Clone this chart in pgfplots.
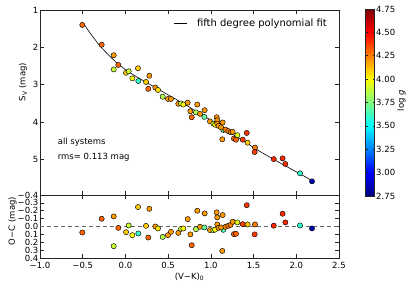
\documentclass[border=0pt]{standalone}
\usepackage{fontspec}
\setmainfont{DejaVu Sans}
\usepackage{pgfplots}
\usepackage{pgfplotstable}
\pgfplotsset{compat=1.18}

\pgfplotstableread{
x s r g
-0.505 1.40 0.076 4.30
-0.278 1.93 -0.098 4.30
-0.137 2.21 -0.128 4.20
-0.137 2.59 0.250 3.90
-0.083 2.47 0.017 4.30
0.007 2.68 0.072 4.10
0.038 2.64 -0.013 3.90
0.081 2.83 0.110 4.00
0.147 2.56 -0.247 4.10
0.151 2.90 0.089 3.60
0.241 2.925 -0.008 4.10
0.268 3.11 0.140 4.30
0.280 2.76 -0.225 4.20
0.350 3.075 0.000 4.20
0.381 3.14 0.025 4.05
0.436 3.32 0.132 3.85
0.498 3.38 0.110 4.20
0.533 3.38 0.068 4.20
0.619 3.51 0.081 4.20
0.651 3.50 0.030 3.90
0.678 3.53 0.025 4.00
0.729 3.48 -0.094 4.20
0.760 3.71 0.100 4.20
0.776 3.87 0.238 4.30
0.826 3.74 0.034 3.85
0.841 3.53 -0.200 4.20
0.873 3.78 0.004 4.20
0.928 3.68 -0.166 4.20
0.924 3.86 0.012 3.70
0.990 3.98 0.046 4.20
1.030 4.04 0.046 3.90
1.050 4.07 0.040 4.00
1.068 3.87 -0.180 4.20
1.075 3.95 -0.116 4.20
1.075 4.04 -0.026 4.20
1.090 4.10 0.017 4.20
1.138 4.01 -0.145 4.20
1.134 4.46 0.310 4.20
1.146 4.21 0.042 3.65
1.120 4.14 0.012 4.20
1.170 4.20 0.004 4.25
1.204 4.24 -0.009 4.25
1.232 4.27 -0.021 4.25
1.255 4.26 -0.060 4.20
1.270 4.44 0.097 4.30
1.294 4.47 0.093 4.30
1.310 4.35 -0.052 3.95
1.373 4.47 -0.030 4.38
1.420 4.29 -0.270 4.40
1.430 4.55 -0.026 4.10
1.517 4.68 -0.026 4.25
1.513 4.80 0.100 4.38
1.736 4.99 -0.010 4.42
1.840 4.97 -0.162 4.42
1.872 5.12 -0.052 4.42
2.044 5.37 -0.013 3.60
2.184 5.585 0.025 2.85
}\data

\pgfplotstableread{
x s
-0.50 1.335
-0.40 1.66
-0.30 1.96
-0.20 2.20
-0.10 2.42
0.00 2.60
0.10 2.745
0.20 2.88
0.30 3.01
0.40 3.14
0.50 3.27
0.60 3.40
0.70 3.53
0.80 3.67
0.90 3.81
1.00 3.95
1.10 4.10
1.20 4.245
1.30 4.39
1.40 4.535
1.50 4.68
1.60 4.82
1.70 4.95
1.80 5.08
1.90 5.205
2.00 5.33
2.10 5.455
2.184 5.57
}\fit

\pgfplotsset{
  panel/.style={
    scale only axis, width=299pt, anchor=south west,
    xmin=-1, xmax=2.5,
    xtick={-1,-0.5,0,0.5,1,1.5,2,2.5},
    tick pos=both, tick align=inside, major tick length=4pt,
    axis line style={line width=0.7pt, black!85},
    tick style={line width=0.5pt, black!85},
    ticklabel style={font=\fontsize{8.5}{10}\selectfont},
    yticklabel style={inner xsep=1.5pt},
    xticklabel style={yshift=-1pt},
    label style={font=\fontsize{8.5}{10}\selectfont},
    /pgf/number format/assume math mode=true,
    colormap/jet, point meta min=2.75, point meta max=4.75,
  },
  pts/.style={
    scatter, only marks, mark=*, mark size=2.6pt,
    scatter src=explicit,
    scatter/use mapped color={draw=black, fill=mapped color},
    mark options={line width=0.45pt},
  }
}

\begin{document}
\begin{tikzpicture}
\path[use as bounding box] (0,0) rectangle (407pt,289pt);

\begin{axis}[panel,
  at={(40pt,94pt)}, height=185pt,
  ymin=1, ymax=5.95, y dir=reverse, ytick={1,2,3,4,5},
  xticklabels={},
  ylabel={S\textsubscript{V} (mag)},
  ylabel style={at={(axis description cs:-0.057,0.611)}, anchor=center},
  legend style={at={(axis description cs:1,1)}, anchor=north east,
    draw=none, fill=none, xshift=-7pt, yshift=-5pt,
    font=\fontsize{10}{12}\selectfont,
    /tikz/every odd column/.append style={column sep=8pt}},
  legend image code/.code={\draw[#1] (0pt,0pt) -- (13pt,0pt);},
  colorbar,
  colorbar style={
    at={(parent axis.east)}, anchor=west, xshift=18pt,
    scale only axis, width=9pt, height=187pt,
    ytick={2.75,3,3.25,3.5,3.75,4,4.25,4.5,4.75},
    yticklabels={2.75,3.00,3.25,3.50,3.75,4.00,4.25,4.50,4.75},
    yticklabel style={font=\fontsize{8.5}{10}\selectfont, inner xsep=1.5pt},
    major tick length=2pt, tick align=inside,
    axis line style={line width=0.6pt, black!85},
    ylabel={log \textit{g}},
    ylabel style={font=\fontsize{8.5}{10}\selectfont, rotate=0,
      at={(axis description cs:4.0,0.51)}, anchor=center},
  },
]
\addplot[black, line width=0.6pt] table[x=x, y=s] {\fit};
\addlegendentry{fifth degree polynomial fit}
\addplot[pts, forget plot] table[x=x, y=s, meta=g] {\data};
\node[anchor=west, inner sep=0pt, font=\fontsize{8.5}{10}\selectfont]
  at (axis description cs:0.059,0.286) {all systems};
\node[anchor=west, inner sep=0pt, font=\fontsize{8.5}{10}\selectfont]
  at (axis description cs:0.059,0.205) {rms= 0.113 mag};
\end{axis}

\begin{axis}[panel,
  at={(40pt,31pt)}, height=63pt,
  ymin=-0.4, ymax=0.4, y dir=reverse,
  ytick={-0.4,-0.3,-0.2,-0.1,0,0.1,0.2,0.3,0.4},
  yticklabels={−0.4,−0.3,−0.2,−0.1,0.0,0.1,0.2,0.3,0.4},
  xticklabels={−1.0,−0.5,0.0,0.5,1.0,1.5,2.0,2.5},
  xlabel={(V−K)\textsubscript{0}},
  xlabel style={at={(axis description cs:0.5,-0.30)}, anchor=center},
  ylabel={O−C (mag)},
  ylabel style={at={(axis description cs:-0.092,0.587)}, anchor=center},
]
\addplot[black!60, line width=1.1pt, dash pattern=on 4pt off 3pt] coordinates {(-1,0) (2.5,0)};
\addplot[pts] table[x=x, y=r, meta=g] {\data};
\end{axis}
\end{tikzpicture}
\end{document}
